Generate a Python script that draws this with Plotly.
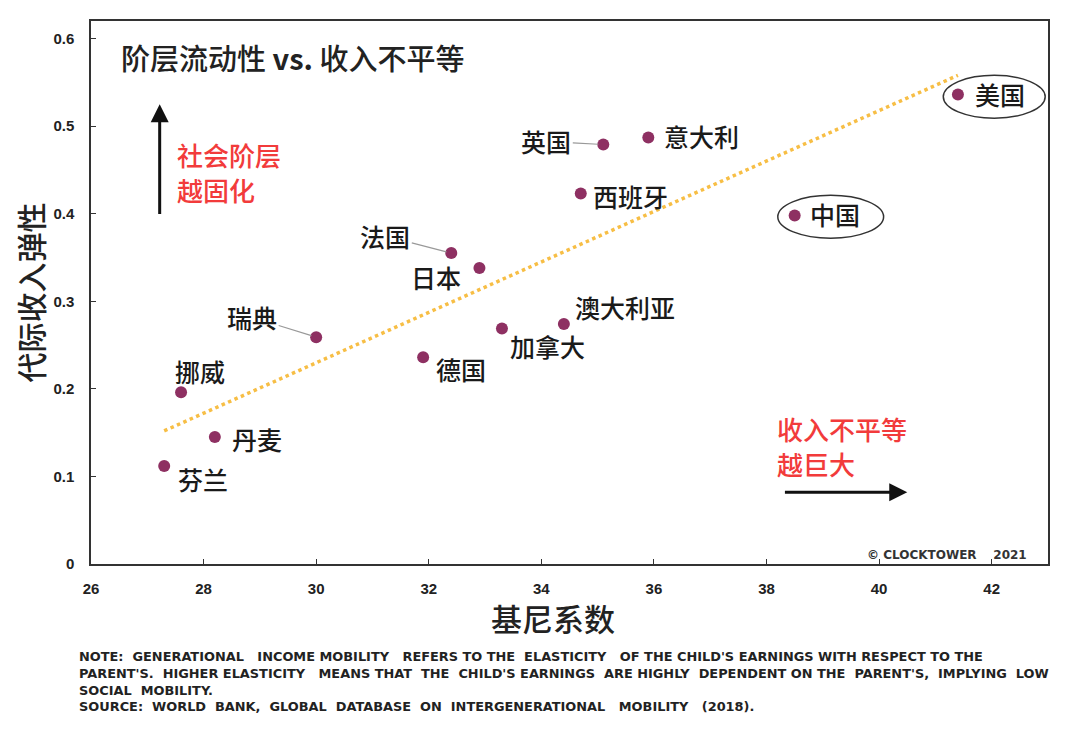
import plotly.graph_objects as go

# ---- data ----
countries = ["芬兰", "丹麦", "挪威", "瑞典", "德国", "加拿大", "澳大利亚",
             "日本", "法国", "西班牙", "英国", "意大利", "中国", "美国"]
gini = [27.3, 28.2, 27.6, 30.0, 31.9, 33.3, 34.4, 32.9, 32.4, 34.7, 35.1, 35.9, 38.5, 41.4]
elasticity = [0.112, 0.145, 0.196, 0.259, 0.236, 0.269, 0.274, 0.338, 0.355, 0.423, 0.479, 0.487, 0.398, 0.536]
trend_x = [27.3, 41.4]
trend_y = [0.152, 0.558]
x_ticks = [26, 28, 30, 32, 34, 36, 38, 40, 42]
y_ticks = [0, 0.1, 0.2, 0.3, 0.4, 0.5, 0.6]
y_tick_labels = ["0", "0.1", "0.2", "0.3", "0.4", "0.5", "0.6"]

# label placement (style): (xanchor, xshift, yshift) or leader (ax, ay)
label_style = {
    "美国": ("left", 15, 1), "中国": ("left", 13, 1), "意大利": ("left", 14, 1),
    "西班牙": ("left", 10, -2), "日本": ("center", -43, -9),
    "澳大利亚": ("left", 9, 17), "加拿大": ("left", 6, -18),
    "德国": ("left", 11, -12), "挪威": ("left", -8, 21),
    "丹麦": ("left", 15, -2), "芬兰": ("left", 12, -13),
}
leader_style = {"英国": (-57, -3), "法国": (-66, -17), "瑞典": (-64, -20)}

CJK = "Noto Sans CJK SC, Microsoft YaHei, sans-serif"
SANS = "Liberation Sans, Arial, sans-serif"
WIDE = "DejaVu Sans, Verdana, sans-serif"
RED = "#F23B3B"
LBL = dict(family=CJK, size=25, color="#1a1a1a", weight=500)

fig = go.Figure()
fig.add_trace(go.Scatter(x=trend_x, y=trend_y, mode="lines",
                         line=dict(color="#F7BE45", width=3.5, dash="dot"),
                         hoverinfo="skip", showlegend=False))
fig.add_trace(go.Scatter(x=gini, y=elasticity, mode="markers",
                         marker=dict(color="#8E3062", size=12),
                         text=countries, showlegend=False))

ann = []
for c, gx, ey in zip(countries, gini, elasticity):
    if c in label_style:
        xa, xs, ys = label_style[c]
        ann.append(dict(x=gx, y=ey, text=c, showarrow=False, xanchor=xa, yanchor="middle",
                        xshift=xs, yshift=ys, font=LBL))
    else:
        ax, ay = leader_style[c]
        ann.append(dict(x=gx, y=ey, text=c, showarrow=True, arrowhead=0, arrowwidth=1.2,
                        arrowcolor="#999999", ax=ax, ay=ay, standoff=5, font=LBL))

# title
ann.append(dict(xref="paper", yref="paper", x=0.029, y=0.933, xanchor="left", yanchor="middle",
                text="阶层流动性\u00a0<b>vs.</b>\u00a0收入不平等", showarrow=False,
                font=dict(family=CJK, size=29, color="#222222", weight=500)))
# x-axis title (slightly left of centre as in the reference)
ann.append(dict(xref="paper", yref="paper", x=0.483, y=-0.098, xanchor="center", yanchor="middle",
                text="基尼系数", showarrow=False,
                font=dict(family=CJK, size=31, color="#222222", weight=500)))
# red notes
RFONT = dict(family=CJK, size=26, color=RED, weight=500)
ann.append(dict(x=27.5, y=0.468, text="社会阶层", showarrow=False, xanchor="left", font=RFONT))
ann.append(dict(x=27.5, y=0.428, text="越固化", showarrow=False, xanchor="left", font=RFONT))
ann.append(dict(x=38.15, y=0.155, text="收入不平等", showarrow=False, xanchor="left", font=RFONT))
ann.append(dict(x=38.15, y=0.115, text="越巨大", showarrow=False, xanchor="left", font=RFONT))
# arrows
ann.append(dict(x=27.22, y=0.525, ax=27.22, ay=0.398, axref="x", ayref="y", text="",
                showarrow=True, arrowhead=2, arrowsize=1.2, arrowwidth=3, arrowcolor="#111111"))
ann.append(dict(x=40.5, y=0.082, ax=38.3, ay=0.082, axref="x", ayref="y", text="",
                showarrow=True, arrowhead=2, arrowsize=1.2, arrowwidth=3, arrowcolor="#111111"))
# copyright
ann.append(dict(xref="paper", yref="paper", x=0.98, y=0.0, xanchor="right", yanchor="bottom",
                text="© CLOCKTOWER\u00a0\u00a0\u00a0\u00a02021", showarrow=False,
                font=dict(family=WIDE, size=12, color="#333333", weight="bold")))
# note
note = ("NOTE:  GENERATIONAL   INCOME MOBILITY   REFERS TO THE  ELASTICITY   OF THE CHILD'S EARNINGS WITH RESPECT TO THE<br>"
        "PARENT'S.  HIGHER ELASTICITY   MEANS THAT  THE  CHILD'S EARNINGS  ARE HIGHLY  DEPENDENT ON THE  PARENT'S,  IMPLYING  LOW<br>"
        "SOCIAL  MOBILITY.<br>"
        "SOURCE:  WORLD  BANK,  GLOBAL  DATABASE  ON  INTERGENERATIONAL   MOBILITY   (2018).")
ann.append(dict(xref="paper", yref="paper", x=-0.0145, y=-0.153, xanchor="left", yanchor="top",
                align="left", text=note, showarrow=False,
                font=dict(family=WIDE, size=12.9, color="#222222", weight="bold")))

shapes = [
    dict(type="circle", xref="x", yref="y", x0=41.14, x1=42.95, y0=0.509, y1=0.558,
         line=dict(color="#333333", width=1.5)),
    dict(type="circle", xref="x", yref="y", x0=38.2, x1=40.08, y0=0.372, y1=0.421,
         line=dict(color="#333333", width=1.5)),
]

fig.update_layout(
    width=1080, height=733,
    margin=dict(l=83, r=40, t=13, b=177),
    paper_bgcolor="white", plot_bgcolor="white",
    annotations=ann, shapes=shapes, showlegend=False,
    xaxis=dict(range=[26, 43], tickvals=x_ticks, ticks="inside", ticklen=5,
               tickcolor="#333333", showgrid=False, zeroline=False,
               showline=True, linecolor="#333333", linewidth=1.5, mirror=True,
               ticklabelstandoff=10,
               tickfont=dict(family=SANS, size=15, color="#222222", weight="bold")),
    yaxis=dict(range=[0, 0.62], tickvals=y_ticks, ticktext=y_tick_labels, ticks="inside",
               ticklen=5, tickcolor="#333333", showgrid=False, zeroline=False,
               showline=True, linecolor="#333333", linewidth=1.5, mirror=True,
               ticklabelstandoff=12,
               tickfont=dict(family=SANS, size=15, color="#222222", weight="bold"),
               title=dict(text="代际收入弹性", font=dict(family=CJK, size=30, color="#222222", weight=500),
                          standoff=8)),
)

fig.write_html("out.html")
